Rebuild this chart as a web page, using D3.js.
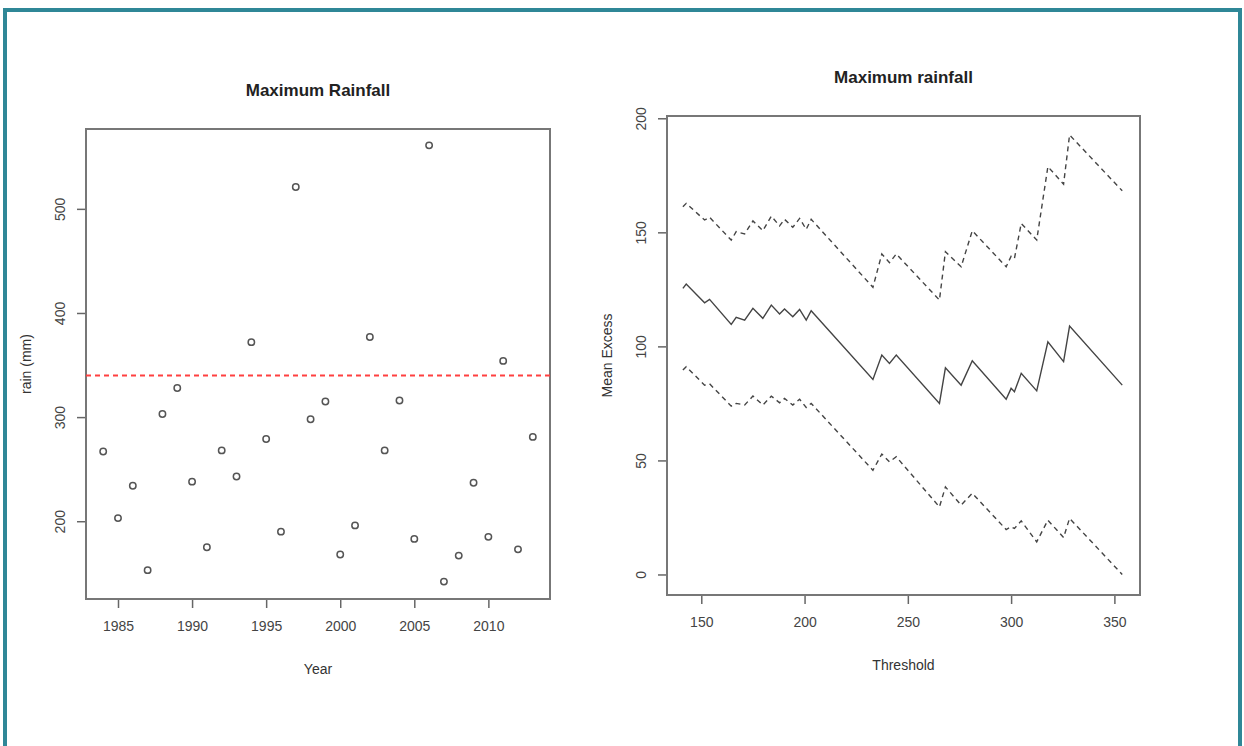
<!DOCTYPE html>
<html lang="en">
<head>
<meta charset="UTF-8">
<title>Maximum Rainfall</title>
<script src="https://d3js.org/d3.v7.min.js"></script>
<style>
    body { margin: 0; background: #fff; }
    text { font-family: 'Liberation Sans', Arial, sans-serif; fill: #333; }
    .tick text { font-size: 14px; fill: #444; }
    .tick line { stroke: #666; stroke-width: 1.5; }
</style>
</head>
<body>
<script>

    // left panel: annual maximum rainfall
    const years = [1984, 1985, 1986, 1987, 1988, 1989, 1990, 1991, 1992, 1993,
                   1994, 1995, 1996, 1997, 1998, 1999, 2000, 2001, 2002, 2003,
                   2004, 2005, 2006, 2007, 2008, 2009, 2010, 2011, 2012, 2013];
    const rain = [267, 203, 234, 153, 303, 328, 238, 175, 268, 243,
                  372, 279, 190, 521, 298, 315, 168, 196, 377, 268,
                  316, 183, 561, 142, 167, 237, 185, 354, 173, 281];
    const rainCut = 340;

    // right panel: mean residual life
    const thresholds = [141.1, 142.7, 151.6, 154.0, 164.5, 166.9, 171.0, 175.0, 179.8, 183.9,
                        187.9, 190.3, 194.3, 197.6, 200.8, 203.2, 233.1, 237.4, 241.1, 244.4,
                        265.3, 268.2, 275.8, 281.2, 297.6, 300.0, 301.6, 304.9, 312.4, 317.8,
                        325.4, 328.3, 353.8];
    const meanExcess = [125.4, 127.3, 119.1, 120.6, 109.6, 112.7, 111.5, 116.7, 112.3, 118.1,
                        114.2, 116.4, 113.0, 116.2, 111.5, 115.6, 85.5, 96.2, 92.5, 96.2,
                        75.0, 90.6, 83.0, 93.7, 76.8, 81.6, 80.1, 88.2, 80.5, 102.0,
                        93.3, 108.9, 83.0];
    const upperCI = [161.2, 162.7, 155.4, 156.6, 146.6, 150.3, 149.3, 155.0, 150.7, 157.1,
                     152.8, 155.7, 152.2, 156.1, 151.3, 155.7, 125.9, 140.5, 136.7, 140.5,
                     120.3, 141.5, 134.9, 150.7, 134.9, 139.5, 138.5, 153.9, 146.6, 178.8,
                     171.1, 192.7, 168.2];
    const lowerCI = [89.6, 91.1, 83.0, 83.6, 73.8, 75.0, 74.3, 78.2, 74.3, 78.2,
                     75.3, 77.2, 74.3, 76.8, 73.2, 75.0, 45.7, 52.8, 49.4, 51.6,
                     29.6, 38.4, 30.4, 35.6, 19.7, 20.9, 20.2, 23.5, 14.3, 23.8,
                     16.2, 24.6, 0.0];

    const yearTicks = [1985, 1990, 1995, 2000, 2005, 2010];
    const rainTicks = [200, 300, 400, 500];
    const thresholdTicks = [150, 200, 250, 300, 350];
    const excessTicks = [0, 50, 100, 150, 200];

    const width = 1244;
    const height = 746;

    const svg = d3.select("body")
            .append("svg")
            .attr("width", width)
            .attr("height", height);

    // teal frame
    svg.append("rect")
            .attr("x", 5).attr("y", 10)
            .attr("width", 1235).attr("height", 760)
            .attr("fill", "none")
            .attr("stroke", "#2f8797")
            .attr("stroke-width", 4);

    function panel(box, xDomain, yDomain, xTicks, yTicks, title, xLabel, yLabel) {
        const x = d3.scaleLinear().domain(xDomain).range([box.x0, box.x1]);
        const y = d3.scaleLinear().domain(yDomain).range([box.y1, box.y0]);
        const g = svg.append("g");

        const xa = g.append("g")
                .attr("transform", "translate(0," + box.y1 + ")")
                .call(d3.axisBottom(x).tickValues(xTicks).tickSize(9).tickPadding(13).tickFormat(d3.format("d")));
        xa.select(".domain").remove();

        const ya = g.append("g")
                .attr("transform", "translate(" + box.x0 + ",0)")
                .call(d3.axisLeft(y).tickValues(yTicks).tickSize(9).tickFormat(d3.format("d")));
        ya.select(".domain").remove();
        ya.selectAll(".tick text")
                .attr("transform", "rotate(-90)")
                .attr("x", 0)
                .attr("y", -26)
                .attr("dy", "0.35em")
                .attr("text-anchor", "middle");

        g.append("rect")
                .attr("x", box.x0).attr("y", box.y0)
                .attr("width", box.x1 - box.x0).attr("height", box.y1 - box.y0)
                .attr("fill", "none")
                .attr("stroke", "#777")
                .attr("stroke-width", 2);

        g.append("text")
                .text(title)
                .attr("x", (box.x0 + box.x1) / 2)
                .attr("y", box.y0 - 33)
                .attr("text-anchor", "middle")
                .style("font-size", "17px")
                .style("font-weight", "bold")
                .style("fill", "#222");

        g.append("text")
                .text(xLabel)
                .attr("x", (box.x0 + box.x1) / 2)
                .attr("y", box.y1 + 75)
                .attr("text-anchor", "middle")
                .style("font-size", "14px");

        g.append("text")
                .text(yLabel)
                .attr("transform", "translate(" + (box.x0 - 60) + "," + (box.y0 + box.y1) / 2 + ") rotate(-90)")
                .attr("dy", "0.35em")
                .attr("text-anchor", "middle")
                .style("font-size", "14px");

        return {g, x, y};
    }

    // left: scatter
    const left = panel({x0: 86, x1: 550, y0: 129, y1: 599},
            [1982.84, 2014.16], [125.3, 576.7],
            yearTicks, rainTicks, "Maximum Rainfall", "Year", "rain (mm)");

    left.g.append("line")
            .attr("x1", left.x.range()[0]).attr("x2", left.x.range()[1])
            .attr("y1", left.y(rainCut)).attr("y2", left.y(rainCut))
            .attr("stroke", "#ff4040")
            .attr("stroke-width", 2)
            .attr("stroke-dasharray", "5,4");

    left.g.selectAll("circle")
            .data(rain)
            .enter()
            .append("circle")
            .attr("cx", (d, i) => left.x(years[i]))
            .attr("cy", d => left.y(d))
            .attr("r", 3.2)
            .attr("fill", "none")
            .attr("stroke", "#555")
            .attr("stroke-width", 1.5);

    // right: mean excess with confidence bands
    const right = panel({x0: 667, x1: 1140, y0: 116, y1: 595},
            [133.4, 362.4], [-9, 201],
            thresholdTicks, excessTicks, "Maximum rainfall", "Threshold", "Mean Excess");

    const line = d3.line()
            .x((d, i) => right.x(thresholds[i]))
            .y(d => right.y(d));

    [[upperCI, "5,4"], [meanExcess, null], [lowerCI, "5,4"]].forEach(([vals, dash]) => {
        right.g.append("path")
                .attr("d", line(vals))
                .attr("fill", "none")
                .attr("stroke", "#444")
                .attr("stroke-width", 1.4)
                .attr("stroke-dasharray", dash);
    });

</script>
</body>
</html>
